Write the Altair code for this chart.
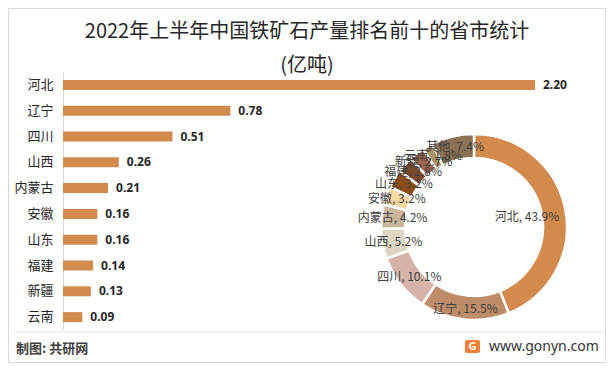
import altair as alt
import pandas as pd

# ---- data ----
names = ["河北", "辽宁", "四川", "山西", "内蒙古", "安徽", "山东", "福建", "新疆", "云南"]
values = [2.20, 0.78, 0.51, 0.26, 0.21, 0.16, 0.16, 0.14, 0.13, 0.09]

pie_names = ["河北", "辽宁", "四川", "山西", "内蒙古", "安徽", "山东", "福建", "新疆", "云南", "其他"]
pie_pct = [43.9, 15.5, 10.1, 5.2, 4.2, 3.2, 3.2, 2.8, 2.7, 1.8, 7.4]
pie_colors = ["#D38B4D", "#BF8C68", "#D5B3A8", "#DDD6C4", "#C9B89D", "#F8D8A2",
              "#8C4E18", "#7C4A2D", "#9E6450", "#A89462", "#8B7254"]

title_lines = ["2022年上半年中国铁矿石产量排名前十的省市统计", "(亿吨)"]
source_text = "制图: 共研网"
site_text = "www.gonyn.com"

FONT = "Noto Sans CJK SC"
BAR_COLOR = "#D38B4D"

bar_df = pd.DataFrame({"name": names, "value": values})
pie_df = pd.DataFrame({"name": pie_names, "pct": pie_pct, "idx": list(range(len(pie_names)))})
one = pd.DataFrame({"a": [0]})

y_enc = alt.Y("name:N", sort=names,
              scale=alt.Scale(paddingInner=0, paddingOuter=0),
              axis=alt.Axis(title=None, ticks=False, domainColor="#D9D9D9",
                            labelFontSize=13, labelPadding=10, labelColor="#262626",
                            labelFont=FONT, grid=False))
x_enc = alt.X("value:Q", scale=alt.Scale(domain=[0, 2.2], range=[0, 472]), axis=None)

bars = alt.Chart(bar_df).mark_bar(size=10, color=BAR_COLOR).encode(x=x_enc, y=y_enc)
bar_labels = alt.Chart(bar_df).mark_text(
    align="left", baseline="middle", dx=8, font="Noto Sans", fontWeight="bold",
    fontSize=12, color="#262626"
).encode(x=x_enc, y=y_enc, text=alt.Text("value:Q", format=".2f"))

CX, CY = 411, 155
theta_scale = alt.Scale(domain=[0, 100])

arc = alt.Chart(pie_df).mark_arc(outerRadius=93, innerRadius=69, stroke="white",
                                 strokeWidth=2.5).encode(
    theta=alt.Theta("pct:Q", scale=theta_scale, stack=True),
    order=alt.Order("idx:Q"),
    color=alt.Color("name:N", scale=alt.Scale(domain=pie_names, range=pie_colors), legend=None),
    x=alt.value(CX), y=alt.value(CY),
)

pie_text_base = alt.Chart(pie_df).transform_window(
    cum="sum(pct)", sort=[alt.SortField("idx")]
).transform_calculate(
    mid="datum.cum - datum.pct / 2",
    label="datum.name + ', ' + format(datum.pct, '.1f') + '%'",
)

pie_text_outer = pie_text_base.transform_filter(alt.datum.idx > 0).mark_text(
    radius=82, font=FONT, fontSize=12, color="#404040"
).encode(
    theta=alt.Theta("mid:Q", scale=theta_scale),
    text="label:N", x=alt.value(CX), y=alt.value(CY),
)
pie_text_inner = pie_text_base.transform_filter(alt.datum.idx == 0).mark_text(
    radius=54, font=FONT, fontSize=12, color="#404040"
).encode(
    theta=alt.Theta("mid:Q", scale=theta_scale),
    text="label:N", x=alt.value(CX), y=alt.value(CY),
)

# ---- titles & decorations (plot-area origin at page (63,72)) ----
title1 = alt.Chart(one).mark_text(font=FONT, fontSize=20, color="#262626",
                                  align="center", baseline="alphabetic").encode(
    x=alt.value(244), y=alt.value(-34), text=alt.value(title_lines[0]))
title2 = alt.Chart(one).mark_text(font=FONT, fontSize=20, color="#262626",
                                  align="center", baseline="alphabetic").encode(
    x=alt.value(244), y=alt.value(0), text=alt.value(title_lines[1]))

frame = alt.Chart(one).mark_rect(fill=None, stroke="#D9D9D9", strokeWidth=1).encode(
    x=alt.value(-54.5), x2=alt.value(542.5), y=alt.value(-63.5), y2=alt.value(290.5))
sep = alt.Chart(one).mark_rule(color="#E3E3E3", strokeWidth=1).encode(
    x=alt.value(-48), x2=alt.value(542), y=alt.value(260))
src = alt.Chart(one).mark_text(font=FONT, fontSize=13, fontWeight="bold", color="#404040",
                               align="left", baseline="alphabetic").encode(
    x=alt.value(-47), y=alt.value(281), text=alt.value(source_text))
site = alt.Chart(one).mark_text(font="Noto Sans", fontSize=14, color="#333333",
                                align="left", baseline="alphabetic").encode(
    x=alt.value(426), y=alt.value(279), text=alt.value(site_text))
logo = alt.Chart(one).mark_rect(color="#F07F3C", cornerRadius=2).encode(
    x=alt.value(402), x2=alt.value(417), y=alt.value(268), y2=alt.value(281))
logo_g = alt.Chart(one).mark_text(font="Noto Sans", fontSize=11, fontWeight="bold",
                                  color="white", align="center", baseline="middle").encode(
    x=alt.value(409.5), y=alt.value(274.5), text=alt.value("G"))

chart = alt.layer(
    frame, sep, bars, bar_labels, arc, pie_text_outer, pie_text_inner,
    title1, title2, src, logo, logo_g, site
).properties(
    width=543, height=258,
    padding={"left": 55, "top": 64, "right": 0, "bottom": 33},
    autosize=alt.AutoSizeParams(type="none"),
    background="white",
).configure_view(stroke=None)

chart.save("out.html", embed_options={"renderer": "svg", "actions": False})
